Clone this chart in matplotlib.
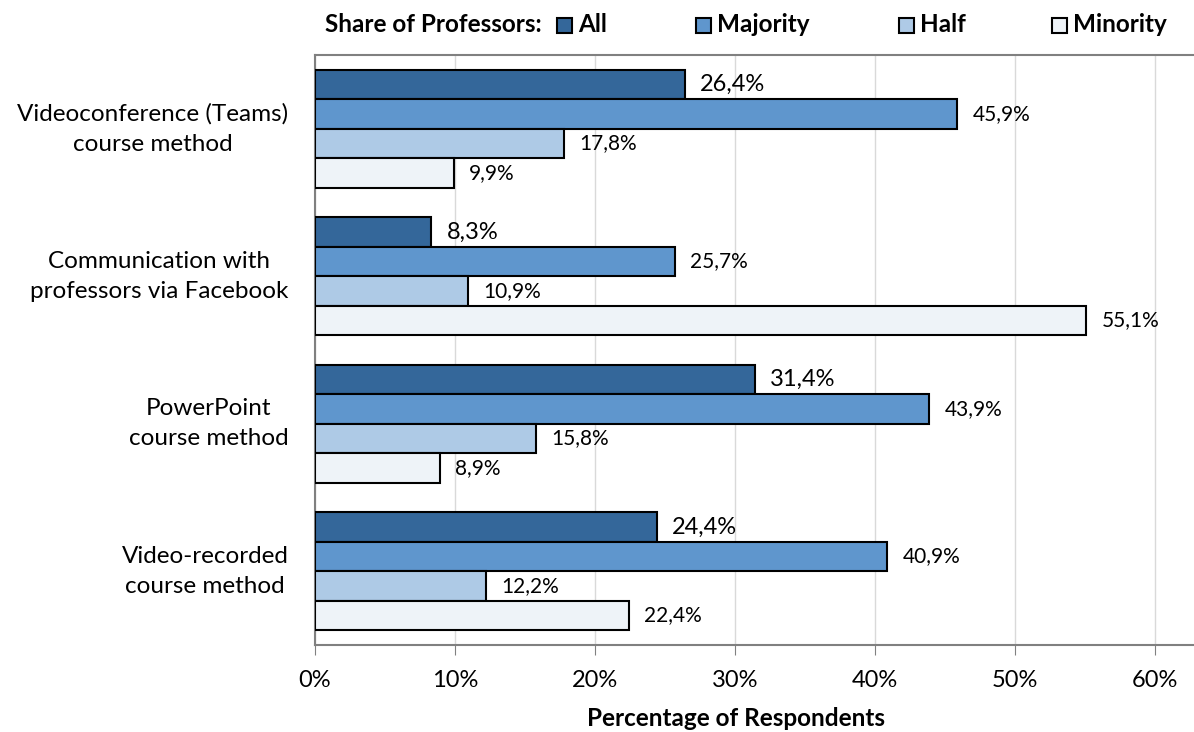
import numpy as np
import matplotlib
matplotlib.use('Agg')
import matplotlib.pyplot as plt
from matplotlib.patches import Rectangle

# DATA

categories = ['Videoconference (Teams)\ncourse method',
	'Communication with\nprofessors via Facebook',
	'PowerPoint\ncourse method',
	'Video-recorded\ncourse method']
series_names = ['All', 'Majority', 'Half', 'Minority']
series_values = [
	[26.4, 8.3, 31.4, 24.4],   # All
	[45.9, 25.7, 43.9, 40.9],  # Majority
	[17.8, 10.9, 15.8, 12.2],  # Half
	[9.9, 55.1, 8.9, 22.4],    # Minority
]
x_ticks = [0, 10, 20, 30, 40, 50, 60]
x_tick_labels = ['0%', '10%', '20%', '30%', '40%', '50%', '60%']

colors = ['#34679A', '#5F96CD', '#AECAE6', '#EEF3F8']

plt.rcParams['font.family'] = ['Lato', 'DejaVu Sans']

W, H = 1194, 732
fig = plt.figure(figsize=(W / 100, H / 100), dpi=100)
ax = fig.add_axes([315 / W, 1 - 645 / H, 1 - 315 / W, (645 - 55) / H])

n_groups = len(categories)
n_series = len(series_names)
group_size = n_series + 1

for k, (name, vals) in enumerate(zip(series_names, series_values)):
	ys = [group_size * g + k + 1 for g in range(n_groups)]
	ax.barh(ys, vals, height=1.0, color=colors[k], edgecolor='black',
		linewidth=1.5, zorder=3)
	fsize = 17 if k == 0 else 15
	for y, v in zip(ys, vals):
		ax.annotate(f'{v:.1f}%'.replace('.', ','), (v, y),
			textcoords='offset points', xytext=(11, 0),
			ha='left', va='center', fontsize=fsize, color='black')

ax.set_ylim(group_size * n_groups, 0)
ax.set_xlim(0, 62.8)

# Category labels, right aligned block with centred lines
group_centers = [group_size * g + group_size / 2 for g in range(n_groups)]
ax.set_yticks(group_centers)
ax.set_yticklabels([])
ax.tick_params(axis='y', length=0)
for yc, cat in zip(group_centers, categories):
	ax.annotate(cat, (0, yc), xycoords=('axes fraction', 'data'),
		textcoords='offset points', xytext=(-19, 0),
		ha='right', va='center', multialignment='center',
		fontsize=17.5, linespacing=1.55)

ax.set_xticks(x_ticks)
ax.set_xticklabels(x_tick_labels, fontsize=17)
ax.tick_params(axis='x', direction='out', length=7, color='#808080', pad=11)

ax.grid(axis='x', color='#D9D9D9', linewidth=1, zorder=0)
ax.set_axisbelow(True)

ax.spines['right'].set_visible(False)
for s in ['left', 'bottom', 'top']:
	ax.spines[s].set_color('#808080')
	ax.spines[s].set_linewidth(1.5)

fig.text(736 / W, 1 - 718 / H, 'Percentage of Respondents', fontsize=17.5,
	fontweight='bold', ha='center', va='center')

# Legend, drawn by hand on top of the figure
fig.text(325 / W, 1 - 25 / H, 'Share of Professors:', fontsize=17.5,
	fontweight='bold', ha='left', va='center')
legend_x = [557, 696, 899, 1052]
for k, name in enumerate(series_names):
	x0 = legend_x[k] / W
	fig.patches.append(Rectangle((x0, 1 - 33 / H), 15 / W, 15 / H,
		transform=fig.transFigure, facecolor=colors[k], edgecolor='black',
		linewidth=1.5))
	fig.text(x0 + 21 / W, 1 - 25 / H, name, fontsize=17.5,
		fontweight='bold', ha='left', va='center')

fig.savefig('out.png', dpi=100)
